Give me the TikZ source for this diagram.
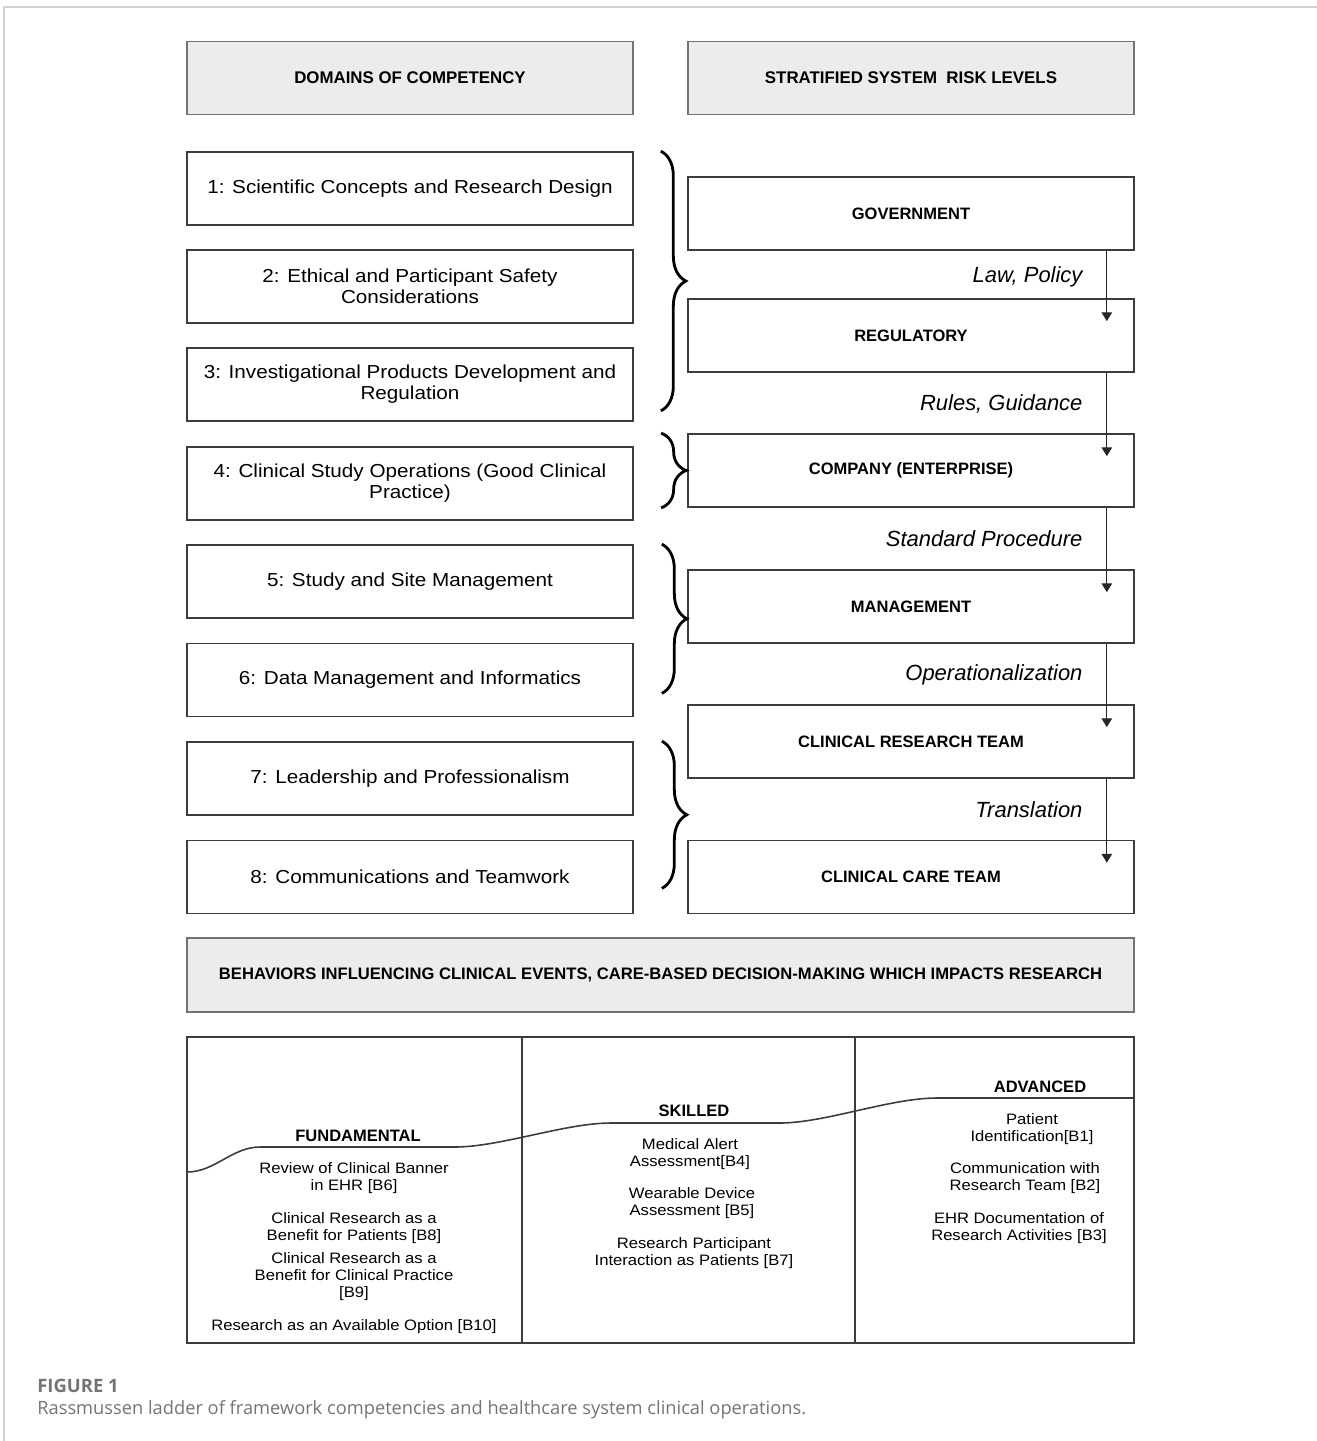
\documentclass[tikz,border=0pt]{standalone}
\usepackage{fontspec}
\setmainfont{Liberation Sans}
\newfontfamily\widefont[FakeStretch=1.1]{Liberation Sans}
\newfontfamily\capfont{Open Sans}
\usetikzlibrary{positioning,arrows.meta,calc,decorations.pathreplacing}

\definecolor{hdrgray}{HTML}{ECECEC}
\definecolor{linegray}{HTML}{3C3C3C}
\definecolor{capgray}{HTML}{747474}
\definecolor{framegray}{HTML}{D2D2D2}

\begin{document}
\begin{tikzpicture}[x=0.02cm, y=-0.02cm,
    box/.style={draw=linegray, line width=1pt, minimum width=8.92cm, minimum height=1.46cm,
                align=center, inner sep=2pt, text=black},
    hdrbox/.style={box, fill=hdrgray, draw=black!55, font=\fontsize{9.6}{11}\selectfont\bfseries},
    dombox/.style={box, font=\widefont\fontsize{10.7}{12}\selectfont},
    riskbox/.style={box, font=\fontsize{9.4}{11}\selectfont\bfseries},
    flowarrow/.style={-{Triangle[length=5pt,width=6pt]}, line width=0.6pt, black!85},
    flowlabel/.style={font=\fontsize{12.5}{14}\selectfont\itshape, text=black},
    groupbrace/.style={decorate, decoration={brace, amplitude=0.5cm}, line width=1.6pt},
    tiertext/.style={font=\fontsize{9.4}{11}\selectfont\bfseries, inner sep=1pt},
    behavtext/.style={align=center, font=\widefont\fontsize{8.6}{9.7}\selectfont, inner sep=1pt}]

    \useasboundingbox (0,0) rectangle (1317,1441);
    % page frame
    \draw[framegray, line width=1pt] (4,1441) -- (4,7) -- (1317,7);

    % Column headers
    \node[hdrbox] (hdom) at (410,78) {DOMAINS OF COMPETENCY};
    \node[hdrbox] (hrisk) at (911,78) {STRATIFIED SYSTEM\ \ RISK LEVELS};

    % Left column - domains of competency
    \foreach \i/\txt/\y in {1/{1: Scientific Concepts and Research Design}/188.5,
                            2/{2: Ethical and Participant Safety\\Considerations}/286.5,
                            3/{3: Investigational Products Development and\\Regulation}/384.5,
                            4/{4: Clinical Study Operations (Good Clinical\\Practice)}/483.5,
                            5/{5: Study and Site Management}/581.5,
                            6/{6: Data Management and Informatics}/680,
                            7/{7: Leadership and Professionalism}/778.5,
                            8/{8: Communications and Teamwork}/877} {
        \node[dombox] (d\i) at (410,\y) {\txt};
    }

    % Right column - stratified risk levels
    \foreach \n/\txt/\y in {gov/GOVERNMENT/213.5, reg/REGULATORY/335.5,
                            comp/{COMPANY (ENTERPRISE)}/470.5, mgmt/MANAGEMENT/606.5,
                            crt/{CLINICAL RESEARCH TEAM}/741.5, cct/{CLINICAL CARE TEAM}/877} {
        \node[riskbox] (\n) at (911,\y) {\txt};
    }

    % Flow down the levels
    \foreach \a/\b/\lab in {gov/reg/{Law, Policy}, reg/comp/{Rules, Guidance},
                            comp/mgmt/{Standard Procedure}, mgmt/crt/{Operationalization},
                            crt/cct/{Translation}} {
        \draw[flowarrow] ($(\a.south east)+(-28,0)$) -- ($(\b.north east)+(-28,23)$)
            node[flowlabel, pos=0.37, left=0.36cm] {\lab};
    }

    % Braces grouping domains onto levels
    \draw[groupbrace] ($(d1.north east)+(27,0)$) -- ($(d3.south east)+(27,-11)$);
    \draw[groupbrace] ($(comp.north west)+(-26,0)$) -- ($(comp.south west)+(-26,0)$);
    \draw[groupbrace] ($(d5.north east)+(28,0)$) -- ($(d6.south east)+(28,-24)$);
    \draw[groupbrace] ($(d7.north east)+(28,0)$) -- ($(d8.south east)+(28,-26)$);

    % Behaviors header
    \node[hdrbox, minimum width=18.94cm, minimum height=1.48cm,
          font=\fontsize{9.45}{11}\selectfont\bfseries] (behav) at (660.5,975)
        {BEHAVIORS INFLUENCING CLINICAL EVENTS, CARE-BASED DECISION-MAKING WHICH IMPACTS RESEARCH};

    % Ladder table
    \draw[linegray, line width=1pt] (187,1037) rectangle (1134,1343);
    \draw[linegray, line width=0.9pt] (522,1037) -- (522,1343);
    \draw[linegray, line width=0.9pt] (855,1037) -- (855,1343);
    \draw[linegray, line width=0.9pt] (187,1172) .. controls (215,1172) and (232,1147) .. (260,1147)
        -- (455,1147) .. controls (500,1147) and (565,1123) .. (611,1123)
        -- (780,1123) .. controls (825,1123) and (890,1098) .. (937,1098) -- (1134,1098);

    \node[tiertext] (fund) at (358,1136) {FUNDAMENTAL};
    \node[tiertext] (skil) at (694,1111) {SKILLED};
    \node[tiertext] (adv) at (1040,1087) {ADVANCED};

    \foreach \n/\x/\y/\txt in {b6/354/1178.5/{Review of Clinical Banner\\in EHR [B6]},
                               b8/354/1228.5/{Clinical Research as a\\Benefit for Patients [B8]},
                               b9/354/1277/{Clinical Research as a\\Benefit for Clinical Practice\\{}[B9]},
                               b10/354/1327/{Research as an Available Option [B10]},
                               b4/690/1154.5/{Medical Alert\\Assessment[B4]},
                               b5/692/1203.5/{Wearable Device\\Assessment [B5]},
                               b7/694/1253.5/{Research Participant\\Interaction as Patients [B7]},
                               b1/1032/1129.5/{Patient\\Identification[B1]},
                               b2/1025/1178.5/{Communication with\\Research Team [B2]},
                               b3/1019/1228.5/{EHR Documentation of\\Research Activities [B3]}} {
        \node[behavtext] (\n) at (\x,\y) {\txt};
    }

    % Caption
    \node[anchor=west, inner sep=0, text=capgray, font=\capfont\fontsize{10.5}{12}\selectfont\bfseries]
        (figno) at (37,1386) {FIGURE 1};
    \node[anchor=west, inner sep=0, text=capgray, font=\capfont\fontsize{10.4}{12}\selectfont]
        (figcap) at (37,1410) {Rassmussen ladder of framework competencies and healthcare system clinical operations.};
\end{tikzpicture}
\end{document}
